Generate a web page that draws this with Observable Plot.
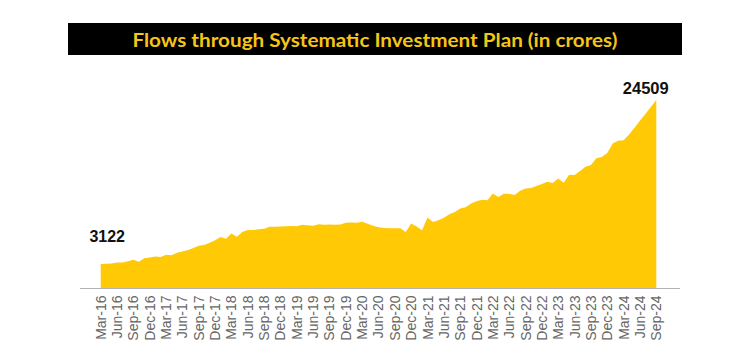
<!DOCTYPE html>
<html>
<head>
<meta charset="utf-8">
<script src="https://cdn.jsdelivr.net/npm/d3@7"></script>
<script src="https://cdn.jsdelivr.net/npm/@observablehq/plot@0.6"></script>
<style>
  html, body { margin: 0; padding: 0; background: #fff; }
  #wrap { position: relative; width: 738px; height: 351px; overflow: hidden; }
  #title { position: absolute; left: 68px; top: 23px; width: 614px; height: 32px; background: #000;
           display: flex; align-items: center; justify-content: center; }
  #title span { color: #f5c518; font-family: Lato, "Open Sans", sans-serif; font-weight: 700; font-size: 19px;
                white-space: nowrap; display: inline-block; transform-origin: center; }
  #chart { position: absolute; left: 0; top: 0; }
</style>
</head>
<body>
<div id="wrap">
  <div id="chart"></div>
  <div id="title"><span id="ttext">Flows through Systematic Investment Plan (in crores)</span></div>
</div>
<script>
const years = ["16","17","18","19","20","21","22","23","24"];
const monthNames = ["Jan","Feb","Mar","Apr","May","Jun","Jul","Aug","Sep","Oct","Nov","Dec"];
// monthly categories Mar-16 .. Sep-24
const months = [];
for (const y of years) for (const m of monthNames) months.push(m + "-" + y);
const categories = months.slice(months.indexOf("Mar-16"), months.indexOf("Sep-24") + 1);

const sipFlows = [
  3122, 3150, 3189, 3310, 3334, 3497, 3698, 3434, 3884, 3973, 4095, 4050,
  4335, 4269, 4584, 4744, 4947, 5206, 5516, 5621, 5893, 6222, 6644, 6425,
  7119, 6690, 7304, 7554, 7554, 7658, 7727, 7985, 7985, 8022, 8064, 8095,
  8055, 8238, 8183, 8122, 8324, 8231, 8263, 8246, 8273, 8518, 8532, 8513,
  8641, 8376, 8123, 7917, 7831, 7792, 7788, 7800, 7302, 8418, 8023, 7528,
  9182, 8596, 8819, 9156, 9609, 9923, 10351, 10519, 11005, 11305, 11517, 11438,
  12328, 11863, 12286, 12276, 12140, 12693, 12976, 13041, 13306, 13573, 13856, 13686,
  14276, 13728, 14749, 14734, 15245, 15814, 16042, 16928, 17073, 17610, 18838, 19187,
  19271, 20000, 20900, 21800, 22700, 23600, 24509
];
const tickLabels = categories.filter((d, i) => i % 3 === 0);
const startLabel = [{month: "Mar-16", value: 3122, text: "3122"}];
const endLabel = [{month: "Sep-24", value: 24509, text: "24509"}];

const data = categories.map((m, i) => ({month: m, value: sipFlows[i]}));

const chart = Plot.plot({
  width: 738,
  height: 351,
  marginLeft: 80,
  marginRight: 58,
  marginTop: 60,
  marginBottom: 63,
  style: {fontFamily: "Liberation Sans, Arial, sans-serif", background: "transparent"},
  x: {type: "point", domain: categories, range: [98, 659]},
  y: {domain: [0, 24509], range: [288, 100], axis: null},
  marks: [
    Plot.areaY(data, {x: "month", y: "value", fill: "#ffc905", curve: "linear"}),
    Plot.ruleY([0], {stroke: "#b3b3b3", strokeWidth: 1.2}),
    Plot.axisX({ticks: tickLabels, tickSize: 0, tickPadding: 7, tickRotate: -90, fontSize: 14,
                fill: "#666", label: null, anchor: "bottom"}),
    Plot.text(startLabel, {x: "month", y: "value", text: "text", fontSize: 16, fontWeight: "bold",
                fill: "#111", dx: 6, dy: -28}),
    Plot.text(endLabel, {x: "month", y: "value", text: "text", fontSize: 16.5, fontWeight: "bold",
                fill: "#111", dx: -11, dy: -12})
  ]
});
document.getElementById("chart").appendChild(chart);

// fit title width to the reference span
const t = document.getElementById("ttext");
const w = t.getBoundingClientRect().width;
t.style.transform = `scaleX(${485 / w})`;
</script>
</body>
</html>
